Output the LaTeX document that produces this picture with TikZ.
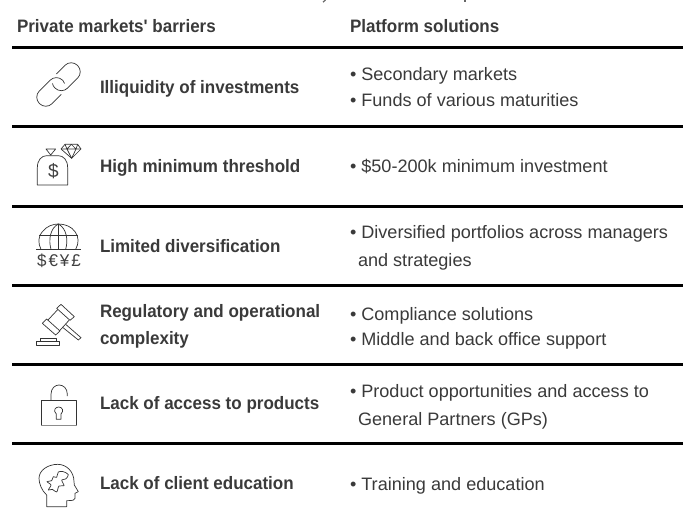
\documentclass[tikz,border=0pt]{standalone}
\usepackage{fontspec}
\setmainfont{Liberation Sans}
\newfontfamily\condreg[FakeStretch=1.005]{Liberation Sans}
\newfontfamily\condbold[FakeStretch=0.945]{Liberation Sans Bold}
\definecolor{txt}{HTML}{3A3A3A}
\tikzset{
 every node/.style={inner sep=0pt,outer sep=0pt,text=txt},
 head/.style={anchor=base west,font=\condbold\fontsize{18}{20}\selectfont},
 barrier/.style={anchor=base west,font=\condbold\fontsize{18}{20}\selectfont},
 sol/.style={anchor=base west,font=\condreg\fontsize{18}{20}\selectfont},
 rulebar/.style={line width=3pt,black},
 icon/.style={line width=0.7pt,draw=black!80,line join=round},
 zoomat/.style 2 args={shift={(#1,#2)},x=0.33333pt,y=-0.33333pt},
}
\begin{document}
\begin{tikzpicture}[x=1pt,y=-1pt]
\useasboundingbox (0,0) rectangle (683,516);
\draw[line width=1.2pt,black!60] (325.5,0) -- (323,2.2);
\draw[line width=1.2pt,black!60] (465,0) -- (465,2.5);
\foreach \y in {47.5,127,206,285,364.5,443.5} \draw[rulebar] (12,\y) -- (683,\y);
\node[head] (h1) at (17,32.5) {Private markets' barriers};
\node[head] (h2) at (350,32.5) {Platform solutions};
\node[barrier] (b1) at (100,93.5) {Illiquidity of investments};
\node[barrier] (b2) at (100,172) {High minimum threshold};
\node[barrier] (b3) at (100,252) {Limited diversification};
\node[barrier] (b4a) at (100,317.5) {Regulatory and operational};
\node[barrier] (b4b) at (100,344) {complexity};
\node[barrier] (b5) at (100,409) {Lack of access to products};
\node[barrier] (b6) at (100,489) {Lack of client education};
\node[sol] (s1a) at (350,81) {• Secondary markets};
\node[sol] (s1b) at (350,107) {• Funds of various maturities};
\node[sol] (s2) at (350,173) {• \$50-200k minimum investment};
\node[sol] (s3a) at (350,238) {• Diversified portfolios across managers};
\node[sol] (s3b) at (358,266) {and strategies};
\node[sol] (s4a) at (350,320) {• Compliance solutions};
\node[sol] (s4b) at (350,345) {• Middle and back office support};
\node[sol] (s5a) at (350,397) {• Product opportunities and access to};
\node[sol] (s5b) at (358,425) {General Partners (GPs)};
\node[sol] (s6) at (350,490) {• Training and education};
% chain
\begin{scope}[shift={(58.5,84.5)},rotate=45]
\draw[icon] (6,-9) -- (18,-9) .. controls (23,-9) and (27,-5) .. (27,0) .. controls (27,5) and (23,9) .. (18,9) -- (4,9) .. controls (-1,9) and (-5,5) .. (-5,0) .. controls (-5,-2) and (-4.5,-3.5) .. (-3.5,-5);
\draw[icon] (-5,9) -- (-18,9) .. controls (-23,9) and (-27,5) .. (-27,0) .. controls (-27,-5) and (-23,-9) .. (-18,-9) -- (-3,-9) .. controls (2,-9) and (6,-5) .. (6,0) .. controls (6,1.5) and (5.7,2.5) .. (5,3.5);
\end{scope}
% money bag
\begin{scope}[zoomat={25}{135}]
\draw[icon] (37,150) -- (37,98) .. controls (37,75) and (50,62) .. (65,62) -- (100,62) .. controls (115,62) and (128,75) .. (128,98) -- (128,150) -- cycle;
\draw[icon] (63,42) -- (92,42) -- (77,60) -- cycle;
\draw[icon] (120,28) -- (158,28) -- (168,42) -- (140,70) -- (108,42) -- cycle;
\draw[icon] (108,42) -- (168,42) (120,28) -- (126,42) -- (140,70) -- (153,42) -- (158,28) (126,42) -- (139,28) -- (153,42);
\end{scope}
\node[font=\fontsize{19}{19}\selectfont,text=black!75] (usd) at (53.3,171.5) {\$};
% globe
\begin{scope}[zoomat={25}{215}]
\draw[icon] (33,103) -- (168,103);
\draw[icon] (48,103) .. controls (38,85) and (40,62) .. (52,50) .. controls (65,33) and (85,27) .. (100,27) .. controls (120,27) and (140,35) .. (150,50) .. controls (162,65) and (162,85) .. (152,103);
\draw[icon] (42,62) -- (158,62);
\draw[icon] (78,103) .. controls (70,75) and (75,40) .. (100,27) .. controls (125,40) and (130,75) .. (122,103);
\draw[icon] (100,27) -- (100,103);
\end{scope}
\node[font=\fontsize{17}{17}\selectfont,text=black!75] (fx) at (59,261) {\$\hspace{2pt}€\hspace{2pt}¥\hspace{2pt}£};
% gavel
\begin{scope}[zoomat={25}{295}]
\draw[icon] (108,28) -- (148,65) -- (135,76) -- (95,40) -- cycle;
\draw[icon] (65,72) -- (105,108) -- (92,120) -- (52,85) -- cycle;
\draw[icon] (98,44) -- (68,76) (132,76) -- (103,108);
\draw[icon] (122,88) -- (168,128) -- (160,135) -- (113,97);
\draw[icon] (45,138) -- (45,130) -- (95,130) -- (95,138);
\draw[icon] (35,138) rectangle (103,152);
\end{scope}
% padlock
\begin{scope}[zoomat={25}{375}]
\draw[icon] (48,75) rectangle (155,150);
\draw[line width=1.2pt,black!45] (48,151) -- (155,151);
\draw[icon] (78,75) -- (78,58) .. controls (78,40) and (90,30) .. (102,30) .. controls (115,30) and (127,40) .. (127,58) -- (127,63);
\draw[icon] (94,133) -- (94,117) .. controls (84,108) and (90,96) .. (101,96) .. controls (112,96) and (118,108) .. (108,117) -- (108,133) -- cycle;
\end{scope}
% head with puzzle
\begin{scope}[zoomat={25}{450}]
\draw[icon] (65,170) -- (65,135) .. controls (50,122) and (42,100) .. (42,85) .. controls (42,60) and (70,43) .. (98,43) .. controls (125,43) and (147,65) .. (147,95) -- (148,105) -- (160,125) -- (150,130) -- (150,145) .. controls (150,150) and (145,152) .. (125,152) -- (125,170) -- cycle;
\draw[icon,smooth cycle,tension=0.55] plot coordinates {(66,95) (80,92) (85,80) (95,82) (100,66) (115,65) (130,74) (122,87) (110,90) (117,107) (102,108) (95,126) (82,118) (70,120) (78,105)};
\end{scope}
\end{tikzpicture}
\end{document}
